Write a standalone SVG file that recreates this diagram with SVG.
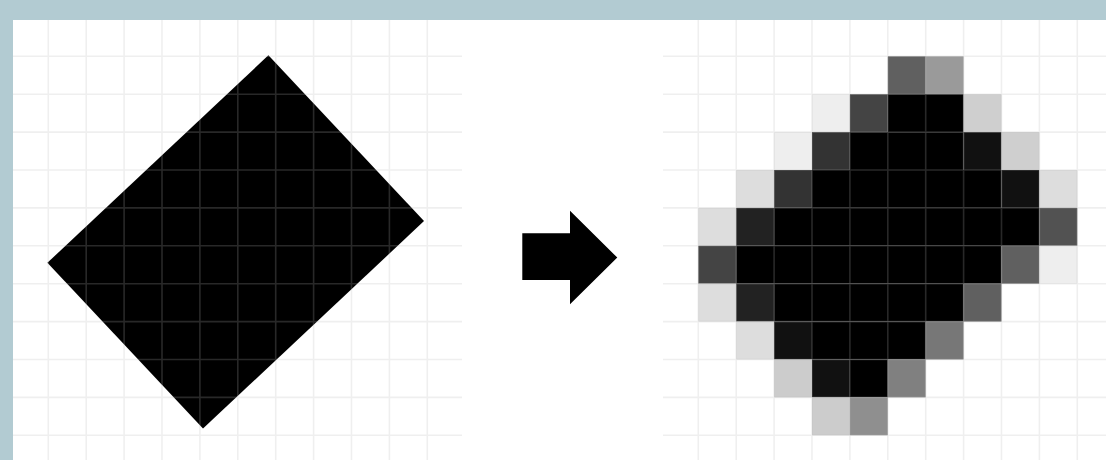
<svg xmlns="http://www.w3.org/2000/svg" width="1106" height="460" viewBox="0 0 1106 460">
  <style>
    .grid { stroke: #b4b4b4; stroke-opacity: 0.22; stroke-width: 1.6; fill: none; }
    .ink { fill: #000000; }
  </style>
  <rect x="0" y="0" width="1106" height="460" fill="#ffffff"/>
  <g id="source-shape">
    <polygon class="ink" points="268.4,55.3 424.0,221.1 203.0,428.6 47.4,262.8"/>
    <path class="grid" d="M48.3 20V460M86.2 20V460M124.1 20V460M162 20V460M199.9 20V460M237.8 20V460M275.7 20V460M313.6 20V460M351.5 20V460M389.4 20V460M427.3 20V460M13 56.3H462M13 94.2H462M13 132.1H462M13 170H462M13 207.9H462M13 245.8H462M13 283.7H462M13 321.6H462M13 359.5H462M13 397.4H462M13 435.3H462"/>
  </g>
  <g id="connectors">
    <polygon id="arrow" class="ink" points="522.3,233.3 570,233.3 570,210.7 617.3,257.6 570,304.3 570,280 522.3,280"/>
  </g>
  <g id="pixelated">
    <g id="pixels">
      <rect x="887.8" y="56.3" width="37.9" height="37.9" fill="#606060"/>
      <rect x="925.7" y="56.3" width="37.9" height="37.9" fill="#9a9a9a"/>
      <rect x="812" y="94.2" width="37.9" height="37.9" fill="#eeeeee"/>
      <rect x="849.9" y="94.2" width="37.9" height="37.9" fill="#444444"/>
      <rect x="887.8" y="94.2" width="75.8" height="37.9" fill="#000000"/>
      <rect x="963.6" y="94.2" width="37.9" height="37.9" fill="#cfcfcf"/>
      <rect x="774.1" y="132.1" width="37.9" height="37.9" fill="#eeeeee"/>
      <rect x="812" y="132.1" width="37.9" height="37.9" fill="#333333"/>
      <rect x="849.9" y="132.1" width="113.7" height="37.9" fill="#000000"/>
      <rect x="963.6" y="132.1" width="37.9" height="37.9" fill="#111111"/>
      <rect x="1001.5" y="132.1" width="37.9" height="37.9" fill="#cfcfcf"/>
      <rect x="736.2" y="170" width="37.9" height="37.9" fill="#dddddd"/>
      <rect x="774.1" y="170" width="37.9" height="37.9" fill="#333333"/>
      <rect x="812" y="170" width="189.5" height="37.9" fill="#000000"/>
      <rect x="1001.5" y="170" width="37.9" height="37.9" fill="#111111"/>
      <rect x="1039.4" y="170" width="37.9" height="37.9" fill="#dddddd"/>
      <rect x="698.3" y="207.9" width="37.9" height="37.9" fill="#dddddd"/>
      <rect x="736.2" y="207.9" width="37.9" height="37.9" fill="#222222"/>
      <rect x="774.1" y="207.9" width="265.3" height="37.9" fill="#000000"/>
      <rect x="1039.4" y="207.9" width="37.9" height="37.9" fill="#525252"/>
      <rect x="698.3" y="245.8" width="37.9" height="37.9" fill="#444444"/>
      <rect x="736.2" y="245.8" width="265.3" height="37.9" fill="#000000"/>
      <rect x="1001.5" y="245.8" width="37.9" height="37.9" fill="#606060"/>
      <rect x="1039.4" y="245.8" width="37.9" height="37.9" fill="#eeeeee"/>
      <rect x="698.3" y="283.7" width="37.9" height="37.9" fill="#dddddd"/>
      <rect x="736.2" y="283.7" width="37.9" height="37.9" fill="#222222"/>
      <rect x="774.1" y="283.7" width="189.5" height="37.9" fill="#000000"/>
      <rect x="963.6" y="283.7" width="37.9" height="37.9" fill="#606060"/>
      <rect x="736.2" y="321.6" width="37.9" height="37.9" fill="#dddddd"/>
      <rect x="774.1" y="321.6" width="37.9" height="37.9" fill="#111111"/>
      <rect x="812" y="321.6" width="113.7" height="37.9" fill="#000000"/>
      <rect x="925.7" y="321.6" width="37.9" height="37.9" fill="#777777"/>
      <rect x="774.1" y="359.5" width="37.9" height="37.9" fill="#cccccc"/>
      <rect x="812" y="359.5" width="37.9" height="37.9" fill="#111111"/>
      <rect x="849.9" y="359.5" width="37.9" height="37.9" fill="#000000"/>
      <rect x="887.8" y="359.5" width="37.9" height="37.9" fill="#808080"/>
      <rect x="812" y="397.4" width="37.9" height="37.9" fill="#cccccc"/>
      <rect x="849.9" y="397.4" width="37.9" height="37.9" fill="#8f8f8f"/>
    </g>
    <path class="grid" d="M698.3 20V460M736.2 20V460M774.1 20V460M812 20V460M849.9 20V460M887.8 20V460M925.7 20V460M963.6 20V460M1001.5 20V460M1039.4 20V460M1077.3 20V460M663 56.3H1106M663 94.2H1106M663 132.1H1106M663 170H1106M663 207.9H1106M663 245.8H1106M663 283.7H1106M663 321.6H1106M663 359.5H1106M663 397.4H1106M663 435.3H1106"/>
  </g>
  <g id="frame">
    <rect x="0" y="0" width="1106" height="20" fill="#b2cbd2"/>
    <rect x="0" y="0" width="13" height="460" fill="#b2cbd2"/>
  </g>
</svg>
